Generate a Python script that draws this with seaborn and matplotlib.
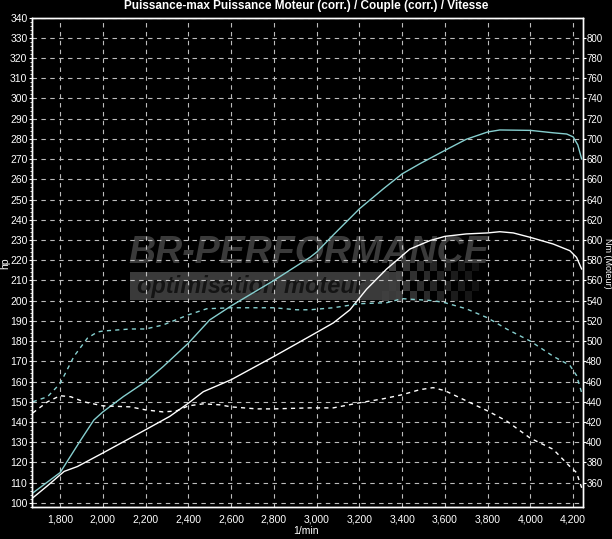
import numpy as np
import pandas as pd
import matplotlib
matplotlib.use('Agg')
import matplotlib.pyplot as plt
import seaborn as sns
from matplotlib.ticker import FuncFormatter, MultipleLocator
from matplotlib.patches import Rectangle

# run 1 (cyan) power, hp
rpm_pwr_1 = [1672, 1800, 1896, 1958, 2000, 2096, 2200, 2282, 2400, 2500, 2600, 2800, 2970, 3000,
             3078, 3200, 3312, 3400, 3483, 3600, 3700, 3800, 3857, 4000, 4107, 4170, 4200, 4222, 4240]
hp_1 = [104.9, 115, 131, 141, 145, 152.6, 160, 167.4, 179, 190.5, 197.4, 210, 221.5, 224,
        232.5, 245.4, 255.3, 262.7, 267.7, 274.3, 279.8, 283.4, 284.4, 284.2, 283, 282.4, 281, 277, 270]

# run 2 (white) power, hp
rpm_pwr_2 = [1672, 1741, 1819, 1881, 2000, 2200, 2313, 2400, 2470, 2600, 2800, 2970, 3078, 3156,
             3234, 3327, 3436, 3530, 3600, 3700, 3800, 3857, 3920, 4000, 4107, 4185, 4216, 4240]
hp_2 = [102.5, 108.5, 115.6, 118, 124.7, 136.2, 142.8, 149.3, 155, 160.9, 172.4, 182.5, 189, 195.5,
        205.7, 215.6, 225.5, 229.7, 231.8, 233, 233.5, 234.1, 233.5, 231.3, 228, 224.7, 221.4, 215.6]

# run 1 (cyan) torque, Nm
rpm_trq_1 = [1672, 1741, 1800, 1865, 1928, 1974, 2000, 2128, 2200, 2282, 2400, 2486, 2600, 2800, 2907,
             2970, 3078, 3200, 3328, 3400, 3545, 3600, 3700, 3800, 3889, 4000, 4107, 4185, 4216, 4240]
nm_1 = [440, 445, 458, 485, 503, 509, 510, 512, 512, 516, 526, 532, 533, 533, 531,
        531, 533, 537, 538, 542, 540, 538, 532, 523, 512, 500, 485, 476, 466, 449]

# run 2 (white) torque, Nm
rpm_trq_2 = [1672, 1741, 1800, 1850, 1911, 2000, 2128, 2200, 2282, 2345, 2400, 2470, 2548, 2600, 2720, 2800,
             2970, 3078, 3200, 3312, 3400, 3483, 3545, 3600, 3700, 3800, 3889, 4000, 4107, 4185, 4216, 4240]
nm_2 = [429, 440, 446, 445, 440, 436, 435, 432, 430, 431, 436, 438, 437, 435, 433, 433,
        434, 434, 439, 443, 447, 452, 454, 451, 441, 431, 421, 404, 393, 376, 370, 355]

x_ticks = list(range(1800, 4201, 200))
hp_ticks = list(range(100, 341, 10))
nm_ticks = list(range(360, 801, 20))

sns.set_style('dark', {'axes.facecolor': 'black', 'figure.facecolor': 'black'})
plt.rcParams['font.family'] = ['Liberation Sans', 'DejaVu Sans']
plt.rcParams['text.color'] = 'white'

fig = plt.figure(figsize=(6.12, 5.39), dpi=100)
ax = fig.add_axes([0.0528, 0.0594, 0.8994, 0.9081])
ax.set_facecolor('black')
ax2 = ax.twinx()

cyan = '#86cfcf'
sns.lineplot(x=rpm_pwr_1, y=hp_1, ax=ax, color=cyan, lw=1.0, zorder=3)
sns.lineplot(x=rpm_pwr_2, y=hp_2, ax=ax, color='white', lw=1.0, zorder=3)
sns.lineplot(x=rpm_trq_1, y=nm_1, ax=ax2, color=cyan, lw=1.0)
sns.lineplot(x=rpm_trq_2, y=nm_2, ax=ax2, color='white', lw=1.0)
for ln in ax2.lines:
    ln.set_linestyle((0, (3, 3)))

ax.set_xticks(x_ticks)
ax.xaxis.set_major_formatter(FuncFormatter(lambda v, p: f'{int(v):,}'))
ax.set_yticks(hp_ticks)
ax2.set_yticks(nm_ticks)
ax.xaxis.set_minor_locator(MultipleLocator(50))
ax.yaxis.set_minor_locator(MultipleLocator(2))

ax.grid(True, color='#bdbdbd', ls=(0, (4, 4)), lw=0.8)
ax.set_axisbelow(True)

for a in (ax, ax2):
    for s in a.spines.values():
        s.set_color('white')
        s.set_linewidth(1.0)
        s.set_visible(True)
    a.tick_params(colors='white', labelsize=7.5, length=2.5, width=0.8, pad=1.5)
    a.tick_params(which='minor', colors='white', length=1.5, width=0.6)
ax.tick_params(axis='x', pad=3)
ax.tick_params(axis='y', labelsize=7.5, pad=1)
ax2.tick_params(axis='y', labelsize=7, length=2, pad=0.5)

# axis titles placed inside the figure like the original
fig.text(306 / 612, 1 - 531 / 539, '1/min', color='white', fontsize=7.5, ha='center', va='center')
fig.text(5.5 / 612, 1 - 263 / 539, 'hp', color='white', fontsize=7.5, ha='center', va='center', rotation=90)
fig.text(607.5 / 612, 1 - 263 / 539, 'Nm (Moteur)', color='white', fontsize=6.5, ha='center', va='center',
         rotation=270)
fig.text(0.5, 1 - 6 / 539, 'Puissance-max Puissance Moteur (corr.) / Couple (corr.) / Vitesse',
         color='white', fontsize=8.5, fontweight='bold', ha='center', va='center')

# watermark
ax.add_patch(Rectangle((0.1775, 0.423), 0.49, 0.057, transform=ax.transAxes,
                       color='#3a3a3a', zorder=0.2, lw=0))
chk = (np.indices((4, 14)).sum(axis=0) % 2).astype(float)
rgba = np.zeros((4, 14, 4))
rgba[..., :3] = 0.25
rgba[..., 3] = chk * np.linspace(1.0, 0.3, 14)[None, :]
ax.imshow(rgba, extent=(0.635, 0.81, 0.42, 0.50), transform=ax.transAxes,
          aspect='auto', zorder=0.25, interpolation='nearest')
ax.set_xlim(1670, 4245)
ax.set_ylim(98, 340)
ax2.set_ylim(336, 820)
ax.text(0.175, 0.519, 'BR-PERFORMANCE', transform=ax.transAxes, color='#3a3a3a',
        fontsize=27, fontweight='heavy', fontstyle='italic', va='center', ha='left',
        zorder=0.3)
ax.text(0.19, 0.451, 'optimisation moteur', transform=ax.transAxes, color='#141414',
        fontsize=17, fontweight='heavy', fontstyle='italic', va='center', ha='left',
        zorder=0.3)

fig.savefig('out.png', dpi=100, facecolor='black')
